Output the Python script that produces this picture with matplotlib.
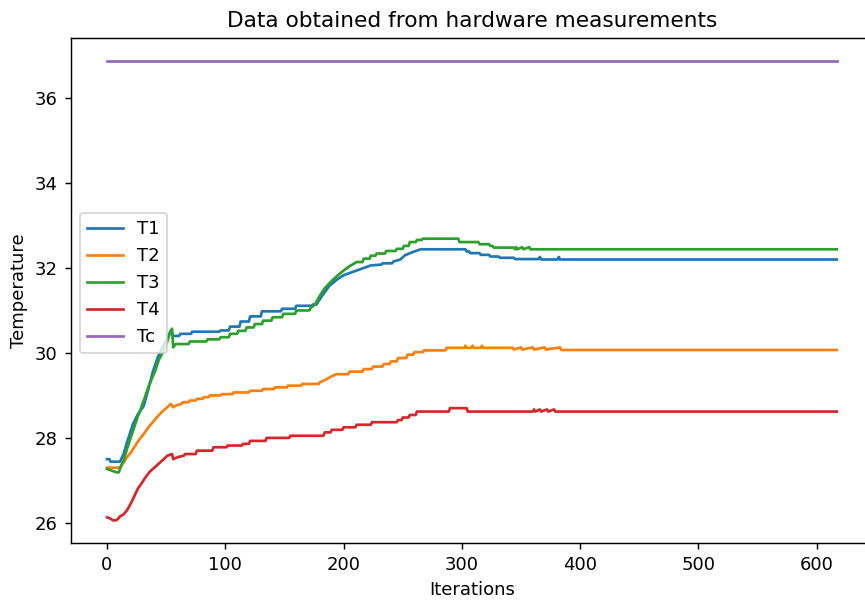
import matplotlib
matplotlib.use('Agg')
import matplotlib.pyplot as plt

# points (iteration, temperature), one row of iters per row of temps
t1_iter = [0, 2, 3, 11, 14, 17, 22, 26, 31, 35,
           39, 43, 47, 51, 54, 56, 61, 62, 71, 72,
           95, 96, 103, 104, 112, 113, 120, 121, 130, 131,
           147, 148, 159, 160, 173, 174, 177, 182, 188, 195,
           200, 206, 211, 217, 223, 232, 233, 241, 242, 248,
           252, 258, 265, 303, 304, 306, 307, 315, 316, 323,
           324, 331, 332, 344, 345, 365, 366, 367, 381, 382,
           383, 617]
t1_temp = [27.50, 27.50, 27.44, 27.44, 27.62, 27.90, 28.33, 28.55, 28.75, 29.15,
           29.58, 29.90, 30.13, 30.35, 30.53, 30.40, 30.40, 30.45, 30.45, 30.50,
           30.50, 30.53, 30.53, 30.62, 30.62, 30.74, 30.74, 30.86, 30.86, 30.98,
           30.98, 31.04, 31.04, 31.11, 31.11, 31.14, 31.14, 31.35, 31.58, 31.74,
           31.83, 31.89, 31.94, 32.00, 32.06, 32.08, 32.11, 32.11, 32.15, 32.20,
           32.30, 32.37, 32.44, 32.44, 32.39, 32.39, 32.35, 32.35, 32.31, 32.31,
           32.27, 32.27, 32.24, 32.24, 32.21, 32.21, 32.26, 32.20, 32.20, 32.26,
           32.20, 32.20]

t2_iter = [0, 11, 14, 17, 20, 24, 27, 31, 35, 39,
           42, 46, 50, 54, 56, 58, 63, 64, 69, 70,
           75, 76, 81, 82, 86, 87, 96, 97, 106, 107,
           120, 121, 131, 132, 141, 142, 152, 153, 164, 165,
           179, 180, 184, 190, 194, 204, 205, 216, 217, 224,
           225, 233, 234, 239, 240, 245, 246, 253, 254, 259,
           260, 267, 268, 286, 287, 302, 303, 304, 308, 309,
           310, 316, 317, 318, 343, 344, 350, 351, 360, 361,
           370, 371, 383, 384, 617]
t2_temp = [27.30, 27.30, 27.42, 27.55, 27.65, 27.82, 27.95, 28.09, 28.25, 28.38,
           28.48, 28.60, 28.70, 28.80, 28.72, 28.76, 28.80, 28.84, 28.84, 28.88,
           28.88, 28.92, 28.92, 28.96, 28.96, 29.00, 29.00, 29.03, 29.03, 29.07,
           29.07, 29.11, 29.11, 29.15, 29.15, 29.19, 29.19, 29.23, 29.23, 29.27,
           29.27, 29.31, 29.36, 29.45, 29.50, 29.50, 29.56, 29.56, 29.62, 29.62,
           29.68, 29.68, 29.74, 29.74, 29.80, 29.80, 29.88, 29.88, 29.96, 29.96,
           30.02, 30.02, 30.06, 30.06, 30.12, 30.12, 30.17, 30.12, 30.12, 30.17,
           30.12, 30.12, 30.17, 30.12, 30.12, 30.08, 30.13, 30.08, 30.13, 30.08,
           30.13, 30.08, 30.13, 30.07, 30.07]

t3_iter = [0, 5, 8, 10, 12, 14, 17, 20, 23, 26,
           29, 32, 35, 38, 41, 44, 47, 50, 53, 55,
           56, 58, 69, 70, 84, 85, 95, 96, 103, 104,
           110, 111, 117, 118, 124, 125, 131, 132, 139, 140,
           148, 149, 159, 160, 171, 172, 176, 180, 184, 189,
           194, 200, 205, 211, 216, 217, 222, 223, 227, 228,
           235, 236, 244, 245, 250, 251, 255, 256, 261, 262,
           266, 267, 297, 298, 314, 315, 323, 324, 326, 327,
           344, 345, 346, 347, 351, 352, 357, 358, 617]
t3_temp = [27.27, 27.22, 27.19, 27.19, 27.35, 27.46, 27.75, 28.00, 28.25, 28.50,
           28.72, 28.95, 29.20, 29.40, 29.60, 29.85, 30.00, 30.20, 30.45, 30.57,
           30.13, 30.21, 30.21, 30.27, 30.27, 30.32, 30.32, 30.37, 30.37, 30.45,
           30.45, 30.52, 30.52, 30.60, 30.60, 30.68, 30.68, 30.76, 30.76, 30.84,
           30.84, 30.92, 30.92, 31.00, 31.00, 31.05, 31.15, 31.35, 31.52, 31.67,
           31.80, 31.94, 32.04, 32.14, 32.14, 32.22, 32.22, 32.29, 32.29, 32.34,
           32.34, 32.40, 32.40, 32.45, 32.45, 32.52, 32.52, 32.61, 32.61, 32.66,
           32.66, 32.69, 32.69, 32.61, 32.61, 32.56, 32.56, 32.52, 32.52, 32.48,
           32.48, 32.44, 32.49, 32.44, 32.49, 32.44, 32.49, 32.44, 32.44]

t4_iter = [0, 3, 5, 8, 11, 14, 17, 20, 23, 26,
           29, 32, 36, 40, 44, 48, 51, 55, 56, 60,
           65, 66, 75, 76, 89, 90, 101, 102, 114, 115,
           120, 121, 134, 135, 154, 155, 183, 184, 189, 190,
           199, 200, 210, 211, 223, 224, 245, 246, 249, 250,
           255, 256, 261, 262, 289, 290, 304, 305, 360, 361,
           362, 366, 367, 372, 373, 378, 379, 617]
t4_temp = [26.13, 26.10, 26.06, 26.06, 26.15, 26.20, 26.30, 26.45, 26.62, 26.80,
           26.92, 27.05, 27.20, 27.30, 27.40, 27.50, 27.58, 27.62, 27.50, 27.55,
           27.58, 27.62, 27.62, 27.70, 27.70, 27.78, 27.78, 27.82, 27.82, 27.86,
           27.86, 27.93, 27.93, 28.00, 28.00, 28.05, 28.05, 28.13, 28.13, 28.19,
           28.19, 28.25, 28.25, 28.31, 28.31, 28.37, 28.37, 28.42, 28.42, 28.48,
           28.48, 28.54, 28.54, 28.62, 28.62, 28.70, 28.70, 28.62, 28.62, 28.67,
           28.62, 28.67, 28.62, 28.67, 28.62, 28.67, 28.62, 28.62]

tc_iter = [0, 617]
tc_temp = [36.88, 36.88]

series = [
    ('T1', t1_iter, t1_temp),
    ('T2', t2_iter, t2_temp),
    ('T3', t3_iter, t3_temp),
    ('T4', t4_iter, t4_temp),
    ('Tc', tc_iter, tc_temp),
]

dpi = 130
fig = plt.figure(figsize=(865 / dpi, 602 / dpi), dpi=dpi)
# the reference is cut off on the right, so the axes run past the figure edge
ax = fig.add_axes([70.5 / 865, 1 - 543.3 / 602, 802.8 / 865, 505.6 / 602])

for name, xs, ys in series:
    ax.plot(xs, ys, label=name)

ax.set_title('Data obtained from hardware measurements')
ax.set_xlabel('Iterations')
ax.set_ylabel('Temperature')
ax.legend(loc='center left', bbox_to_anchor=(0, 0.515))

fig.savefig('out.png', dpi=dpi)
plt.close(fig)
